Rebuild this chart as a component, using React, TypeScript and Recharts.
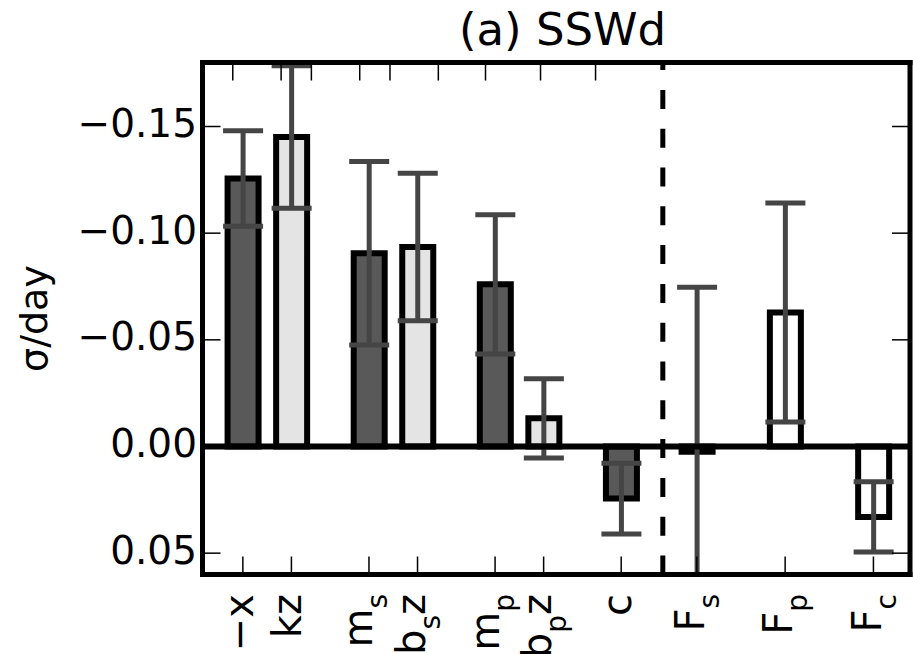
import React from 'react';
import { BarChart, Bar, Cell, ErrorBar, XAxis, YAxis, ReferenceLine } from 'recharts';

// values (y axis is inverted: negative values point up)
const labels = ['−x', 'kz', 'm_s', 'b_s z', 'm_p', 'b_p z', 'c', 'F_s', 'F_p', 'F_c'];
const xPos = [0, 0.385, 1, 1.385, 2, 2.385, 3, 3.6, 4.3, 5.0];
const values = [-0.1256, -0.1451, -0.0906, -0.0935, -0.076, -0.0132, 0.0244, 0.0025, -0.0628, 0.033];
const errors = [0.0224, 0.0334, 0.043, 0.0346, 0.0326, 0.0186, 0.0166, 0.0772, 0.0513, 0.0165];
const kinds = ['dark', 'light', 'dark', 'light', 'dark', 'light', 'dark', 'open', 'open', 'open'];
const yTicks = [-0.15, -0.1, -0.05, 0, 0.05];
const splitAt = 3.33;

const data = labels.map((label, i) => ({
  label,
  pos: xPos[i],
  value: values[i],
  err: errors[i],
  kind: kinds[i],
}));

const W = 913;
const H = 654;
const P = { left: 202.5, top: 62.5, right: 910, bottom: 574.5 };
const FONT = '"DejaVu Sans", sans-serif';
const fills: Record<string, string> = { dark: '#595959', light: '#e4e4e4', open: '#ffffff' };

const LABEL_FS = 40;
const SUB_FS = 28;
const SUB_SHIFT = 15;
const LABEL_TOP = 594;

const fmtY = (v: number) => (v < 0 ? '\u2212' + Math.abs(v).toFixed(2) : v.toFixed(2));

const XTick = (props: any) => {
  const { x, payload } = props;
  const i = xPos.indexOf(payload.value);
  const text = i >= 0 ? labels[i] : '';
  const m = text.match(/^([^_]*)_(\S)\s*(.*)$/);
  let bx: number;
  let body: React.ReactNode;
  if (m) {
    const [, main, sub, tail] = m;
    const asc = /[A-Zbdfhklt]/.test(main) ? 0.73 : 0.55;
    bx = x + (asc * LABEL_FS - SUB_SHIFT) / 2;
    body = (
      <>
        <tspan>{main}</tspan>
        <tspan dy={SUB_SHIFT} fontSize={SUB_FS}>{sub}</tspan>
        {tail ? <tspan dy={-SUB_SHIFT} fontSize={LABEL_FS}>{tail}</tspan> : null}
      </>
    );
  } else {
    bx = x + 0.25 * LABEL_FS;
    body = text;
  }
  return (
    <g>
      <line x1={x} x2={x} y1={P.bottom} y2={P.bottom - 18} stroke="#000" strokeWidth={1.5} />
      <text
        x={bx}
        y={LABEL_TOP}
        transform={`rotate(-90 ${bx} ${LABEL_TOP})`}
        textAnchor="end"
        fontFamily={FONT}
        fontSize={LABEL_FS}
        fill="#000"
      >
        {body}
      </text>
    </g>
  );
};

const TopTick = (props: any) => (
  <line x1={props.x} x2={props.x} y1={P.top} y2={P.top + 18} stroke="#000" strokeWidth={1.5} />
);

const YTick = (props: any) => {
  const { y, payload } = props;
  return (
    <g>
      <line x1={P.left} x2={P.left + 18} y1={y} y2={y} stroke="#000" strokeWidth={1.5} />
      <text x={197} y={y + 10.5} textAnchor="end" fontFamily={FONT} fontSize={39} fill="#000">
        {fmtY(payload.value)}
      </text>
    </g>
  );
};

const RightTick = (props: any) => (
  <line x1={P.right} x2={P.right - 18} y1={props.y} y2={props.y} stroke="#000" strokeWidth={1.5} />
);

const frame = { stroke: '#000', strokeWidth: 5, strokeLinecap: 'square' as const };

export default function App() {
  return (
    <div style={{ position: 'absolute', left: 0, top: 0, width: W, height: H, background: '#fff' }}>
      <style>{'.recharts-errorBar, .recharts-errorBars { clip-path: url(#plotClip); }'}</style>
      <svg width={0} height={0} style={{ position: 'absolute' }}>
        <defs>
          <clipPath id="plotClip" clipPathUnits="userSpaceOnUse">
            <rect x={P.left} y={P.top} width={P.right - P.left} height={P.bottom - P.top} />
          </clipPath>
        </defs>
      </svg>
      <BarChart width={W} height={H} data={data} margin={{ top: 0, right: 0, bottom: 0, left: 0 }}>
        <XAxis
          xAxisId="b"
          dataKey="pos"
          type="number"
          domain={[-0.32, 5.29]}
          ticks={xPos}
          interval={0}
          allowDataOverflow
          height={H - P.bottom}
          axisLine={frame}
          tickLine={false}
          tickSize={0}
          tick={<XTick />}
        />
        <XAxis
          xAxisId="t"
          orientation="top"
          type="number"
          domain={[-0.32, 5.29]}
          ticks={xPos}
          interval={0}
          allowDataOverflow
          height={P.top}
          axisLine={frame}
          tickLine={false}
          tickSize={0}
          tick={<TopTick />}
        />
        <YAxis
          yAxisId="l"
          type="number"
          domain={[-0.18, 0.06]}
          reversed
          ticks={yTicks}
          interval={0}
          allowDataOverflow
          width={P.left}
          axisLine={frame}
          tickLine={false}
          tickSize={0}
          tick={<YTick />}
        />
        <YAxis
          yAxisId="r"
          orientation="right"
          type="number"
          domain={[-0.18, 0.06]}
          reversed
          ticks={yTicks}
          interval={0}
          allowDataOverflow
          width={W - P.right}
          axisLine={frame}
          tickLine={false}
          tickSize={0}
          tick={<RightTick />}
        />
        <Bar
          xAxisId="b"
          yAxisId="l"
          dataKey="value"
          barSize={31}
          stroke="#000"
          strokeWidth={6}
          isAnimationActive={false}
        >
          {data.map((d) => (
            <Cell key={d.label} fill={fills[d.kind]} />
          ))}
          <ErrorBar dataKey="err" direction="y" width={20} stroke="#454545" strokeWidth={5} />
        </Bar>
        <ReferenceLine xAxisId="b" yAxisId="l" y={0} stroke="#000" strokeWidth={6} />
        <ReferenceLine
          xAxisId="b"
          yAxisId="l"
          x={splitAt}
          stroke="#000"
          strokeWidth={5}
          strokeDasharray="19 19.8"
        />
      </BarChart>
      <svg
        width={W}
        height={H}
        style={{ position: 'absolute', left: 0, top: 0, pointerEvents: 'none' }}
      >
        <text x={562.5} y={45} textAnchor="middle" fontFamily={FONT} fontSize={45} fill="#000">
          (a) SSWd
        </text>
        <text
          x={37}
          y={328.5}
          transform="rotate(-90 37 318.5)"
          textAnchor="middle"
          fontFamily={FONT}
          fontSize={38}
          fill="#000"
        >
          σ/day
        </text>
      </svg>
    </div>
  );
}
